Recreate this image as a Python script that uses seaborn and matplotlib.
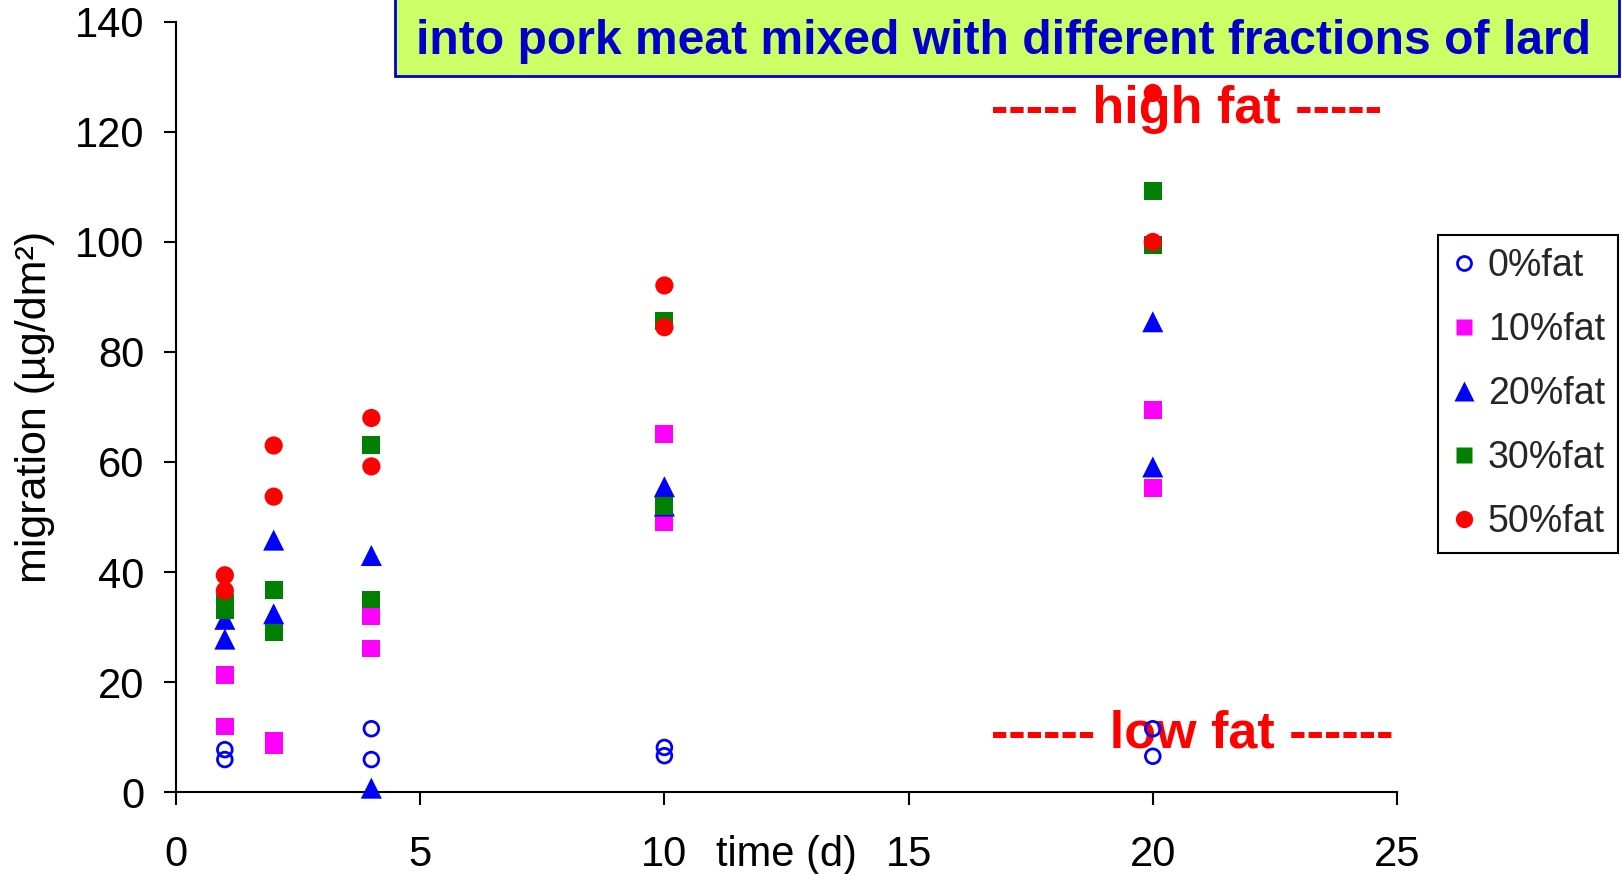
import numpy as np
import pandas as pd
import matplotlib
matplotlib.use("Agg")
import matplotlib.pyplot as plt
from matplotlib.lines import Line2D
from matplotlib.patches import Rectangle
import seaborn as sns

# ---------------- data ----------------
series_names = ["0%fat", "10%fat", "20%fat", "30%fat", "50%fat"]

time_0 = [1, 1, 4, 4, 10, 10, 20, 20]
mig_0 = [7.7, 5.9, 11.5, 5.9, 8.1, 6.6, 11.5, 6.5]

time_10 = [1, 1, 2, 2, 4, 4, 10, 10, 20, 20]
mig_10 = [21.2, 11.9, 9.2, 8.6, 32.0, 26.1, 65.1, 49.1, 69.5, 55.2]

time_20 = [1, 1, 2, 2, 4, 4, 10, 10, 20, 20]
mig_20 = [31.4, 27.8, 45.8, 32.4, 43.0, 0.7, 55.5, 52.0, 85.5, 59.1]

time_30 = [1, 1, 2, 2, 4, 4, 10, 10, 20, 20]
mig_30 = [34.4, 33.1, 36.7, 29.0, 63.1, 35.0, 85.6, 52.0, 109.2, 99.5]

time_50 = [1, 1, 2, 2, 4, 4, 10, 10, 20, 20]
mig_50 = [39.4, 36.6, 63.0, 53.7, 68.0, 59.2, 92.1, 84.5, 127.1, 100.0]

x_ticks = [0, 5, 10, 15, 20, 25]
y_ticks = [0, 20, 40, 60, 80, 100, 120, 140]

title_line = "into pork meat mixed with different fractions of lard"
y_label = "migration (µg/dm²)"
x_label = "time (d)"
high_label = "----- high fat -----"
low_label = "------ low fat ------"

# ---------------- build table ----------------
frames = []
for name, t, m in zip(series_names,
                      [time_0, time_10, time_20, time_30, time_50],
                      [mig_0, mig_10, mig_20, mig_30, mig_50]):
    frames.append(pd.DataFrame({"time": t, "migration": m, "series": name}))
df = pd.concat(frames, ignore_index=True)

colors = {"0%fat": "#0000FF", "10%fat": "#FF00FF", "20%fat": "#0000FF",
          "30%fat": "#008000", "50%fat": "#FF0000"}
markers = {"0%fat": "o", "10%fat": "s", "20%fat": "^", "30%fat": "s", "50%fat": "o"}
sizes = {"0%fat": 112, "10%fat": 165, "20%fat": 230, "30%fat": 165, "50%fat": 172}

# ---------------- figure ----------------
sns.set_style("ticks")
plt.rcParams["font.family"] = ["Liberation Sans", "DejaVu Sans"]

W, H = 1622, 874
fig = plt.figure(figsize=(W / 100, H / 100), dpi=100)
fig.patch.set_facecolor("white")
ax = fig.add_axes([176 / W, 1 - 792 / H, (1397 - 176) / W, (792 - 22) / H])
ax.set_facecolor("white")

for name in series_names:
    sub = df[df["series"] == name]
    if name == "0%fat":
        sns.scatterplot(data=sub, x="time", y="migration", ax=ax, marker="o",
                        s=sizes[name], facecolors="none", edgecolor=colors[name],
                        linewidth=2.0, clip_on=False, zorder=3, legend=False)
    else:
        sns.scatterplot(data=sub, x="time", y="migration", ax=ax, marker=markers[name],
                        s=sizes[name], color=colors[name], edgecolor="none",
                        linewidth=0, clip_on=False, zorder=3, legend=False)

ax.set_xlim(0, 25)
ax.set_ylim(0, 140)
ax.set_xticks(x_ticks)
ax.set_yticks(y_ticks)
ax.set_xticklabels([str(v) for v in x_ticks])
ax.set_yticklabels([str(v) for v in y_ticks])
ax.tick_params(axis="both", labelsize=30, colors="black", width=1.5, length=9,
               direction="out")
ax.tick_params(axis="y", pad=14)
ax.tick_params(axis="x", pad=22)
for side in ["top", "right"]:
    ax.spines[side].set_visible(False)
for side in ["left", "bottom"]:
    ax.spines[side].set_color("black")
    ax.spines[side].set_linewidth(1.5)
ax.grid(False)

ax.set_xlabel("")
ax.set_ylabel(y_label, fontsize=31, color="black")
ax.yaxis.set_label_coords(-0.099, 0.5)

# x label sits between the tick labels 10 and 15
ax.text(12.5, -13.4, x_label, ha="center", va="baseline", fontsize=30,
        color="black", clip_on=False)

# red annotations (beneath markers)
ax.text(20.7, 121.6, high_label, ha="center", va="baseline", fontsize=37.5,
        fontweight="bold", color="#FF0000", zorder=1)
ax.text(20.8, 8.1, low_label, ha="center", va="baseline", fontsize=37.5,
        fontweight="bold", color="#FF0000", zorder=1)

# title box
box = Rectangle((395 / W, 1 - 75.5 / H), (1619 - 395) / W, 100 / H,
                transform=fig.transFigure, facecolor="#CCFF66",
                edgecolor="#0000CC", linewidth=2, zorder=5)
fig.patches.append(box)
fig.text(416 / W, 1 - 54.5 / H, title_line, ha="left", va="baseline",
         fontsize=34.6, fontweight="bold", color="#0000C8", zorder=6)

# legend
handles = []
for name in series_names:
    if name == "0%fat":
        h = Line2D([], [], linestyle="", marker="o", markersize=np.sqrt(sizes[name]) * 0.95,
                   markerfacecolor="none", markeredgecolor=colors[name],
                   markeredgewidth=2.0)
    else:
        h = Line2D([], [], linestyle="", marker=markers[name],
                   markersize=np.sqrt(sizes[name]) * 0.95,
                   markerfacecolor=colors[name], markeredgecolor="none")
    handles.append(h)
leg = ax.legend(handles, series_names, loc="upper left",
                bbox_to_anchor=(1438 / W, 1 - 235 / H), bbox_transform=fig.transFigure,
                frameon=True, fancybox=False, framealpha=1, edgecolor="black",
                fontsize=27, handlelength=0.7, handletextpad=0.29,
                labelspacing=0.75, borderpad=0.34, borderaxespad=0)
leg.get_frame().set_linewidth(1.5)

fig.savefig("out.png", dpi=100, facecolor="white")
